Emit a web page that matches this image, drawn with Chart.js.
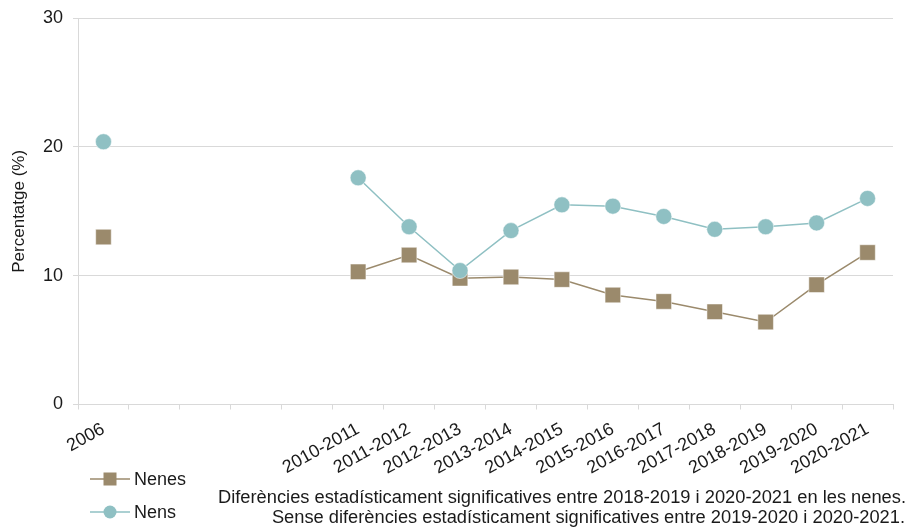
<!DOCTYPE html>
<html lang="ca">
<head>
    <meta charset="UTF-8">
    <title>Percentatge nenes i nens</title>
    <style>
        html, body { margin: 0; padding: 0; background: #fff; }
        #wrap { width: 907px; height: 528px; }
    </style>
</head>
<body>
    <div id="wrap"><canvas id="percChart"></canvas></div>
    <script src="https://cdn.jsdelivr.net/npm/chart.js@4.4.1/dist/chart.umd.min.js"></script>
    <script type="text/javascript">
        // categories (blank ones are the years with no survey)
        const periods = ['2006', '', '', '', '', '2010-2011', '2011-2012', '2012-2013', '2013-2014', '2014-2015',
            '2015-2016', '2016-2017', '2017-2018', '2018-2019', '2019-2020', '2020-2021'];
        const nenes = [13.0, null, null, null, null, 10.3, 11.6, 9.8, 9.9, 9.7, 8.5, 8.0, 7.2, 6.4, 9.3, 11.8];
        const nens = [20.4, null, null, null, null, 17.6, 13.8, 10.4, 13.5, 15.5, 15.4, 14.6, 13.6, 13.8, 14.1, 16.0];
        const yTicks = [0, 10, 20, 30];
        const notes = [
            'Diferències estadísticament significatives entre 2018-2019 i 2020-2021 en les nenes.',
            'Sense diferències estadísticament significatives entre 2019-2020 i 2020-2021.'
        ];

        const FONT = '"Liberation Sans", Arial, sans-serif';
        const TXT = '#1a1a1a';
        const GRID = '#d9d9d9';
        const BROWN = '#9b8a6c';
        const TEAL = '#8fc0c3';

        // legend on the bottom left + footnotes on the right
        const bottomNotes = {
            id: 'bottomNotes',
            afterDraw(chart) {
                const ctx = chart.ctx;
                ctx.save();
                const rows = [479, 512];
                chart.data.datasets.forEach((ds, i) => {
                    const y = rows[i];
                    ctx.strokeStyle = ds.borderColor;
                    ctx.lineWidth = 1.5;
                    ctx.beginPath();
                    ctx.moveTo(90, y);
                    ctx.lineTo(130, y);
                    ctx.stroke();
                    ctx.fillStyle = ds.pointBackgroundColor;
                    if (ds.pointStyle === 'rect') {
                        ctx.fillRect(110 - 6.5, y - 6.5, 13, 13);
                    } else {
                        ctx.beginPath();
                        ctx.arc(110, y, 6.5, 0, Math.PI * 2);
                        ctx.fill();
                    }
                    ctx.fillStyle = TXT;
                    ctx.font = '18px ' + FONT;
                    ctx.textAlign = 'left';
                    ctx.textBaseline = 'middle';
                    ctx.fillText(ds.label, 134, y + 1);
                });
                ctx.font = '18.3px ' + FONT;
                ctx.textAlign = 'right';
                ctx.textBaseline = 'middle';
                ctx.fillStyle = TXT;
                ctx.fillText(notes[0], 906, 498);
                ctx.fillText(notes[1], 905, 518);
                ctx.restore();
            }
        };

        const ctx = document.getElementById('percChart');

        new Chart(ctx, {
            type: 'line',
            data: {
                labels: periods,
                datasets: [{
                    label: 'Nenes',
                    data: nenes,
                    borderColor: BROWN,
                    backgroundColor: BROWN,
                    pointBackgroundColor: BROWN,
                    pointBorderColor: '#ffffff',
                    pointBorderWidth: 0.5,
                    pointStyle: 'rect',
                    pointRadius: 11,
                    borderWidth: 1.5,
                    spanGaps: false,
                    order: 1
                },
                {
                    label: 'Nens',
                    data: nens,
                    borderColor: TEAL,
                    backgroundColor: TEAL,
                    pointBackgroundColor: TEAL,
                    pointBorderColor: '#ffffff',
                    pointBorderWidth: 0.5,
                    pointStyle: 'circle',
                    pointRadius: 8,
                    borderWidth: 1.5,
                    spanGaps: false,
                    order: 0
                }]
            },
            options: {
                responsive: true,
                maintainAspectRatio: false,
                animation: false,
                layout: { padding: { top: 0, right: 14, bottom: 0, left: 0 } },
                plugins: {
                    legend: { display: false },
                    tooltip: { enabled: false }
                },
                scales: {
                    x: {
                        offset: true,
                        grid: { offset: true, drawOnChartArea: false, drawTicks: true, tickLength: 5, color: GRID },
                        border: { display: true, color: GRID },
                        ticks: {
                            autoSkip: false,
                            minRotation: 29,
                            maxRotation: 29,
                            padding: 9,
                            color: TXT,
                            font: { family: FONT, size: 18 }
                        },
                        afterFit(scale) { scale.height = 123.5; }
                    },
                    y: {
                        min: 0,
                        max: 30,
                        afterBuildTicks(scale) { scale.ticks = yTicks.map(v => ({ value: v })); },
                        grid: { color: GRID, tickLength: 5 },
                        border: { display: true, color: GRID },
                        ticks: {
                            padding: 10,
                            color: TXT,
                            font: { family: FONT, size: 18, lineHeight: 0.9 }
                        },
                        title: {
                            display: true,
                            text: 'Percentatge (%)',
                            color: TXT,
                            padding: { top: 9, bottom: 0 },
                            font: { family: FONT, size: 17 }
                        },
                        afterFit(scale) { scale.width = 78; }
                    }
                }
            },
            plugins: [bottomNotes]
        });
    </script>
</body>
</html>
